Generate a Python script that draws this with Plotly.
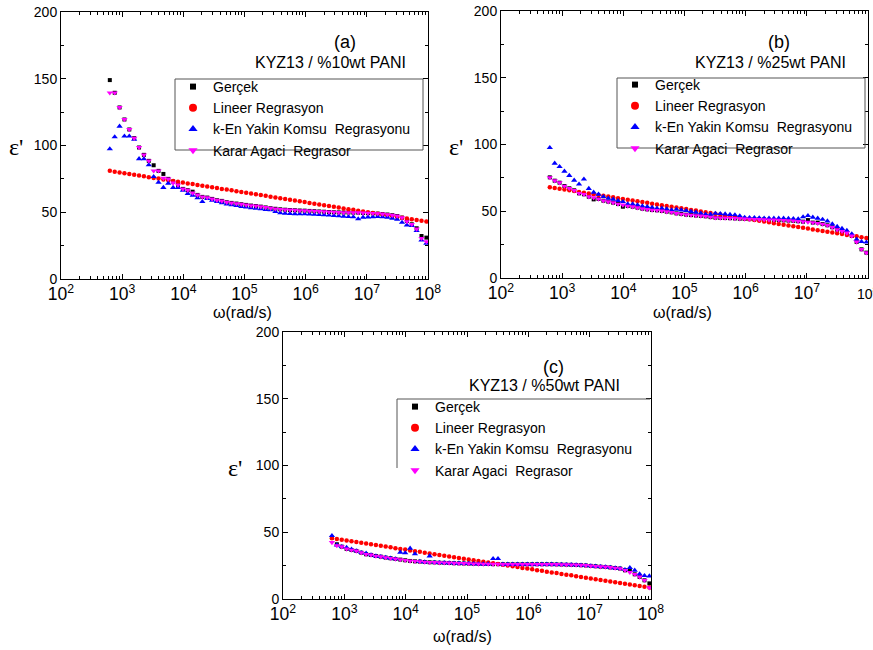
import plotly.graph_objects as go

# ---------------- data ----------------
omega = [
    6.28e2, 7.55e2, 9.07e2, 1.089e3, 1.308e3, 1.571e3, 1.888e3, 2.267e3, 2.724e3, 3.272e3,
    3.930e3, 4.721e3, 5.671e3, 6.812e3, 8.183e3, 9.829e3, 1.181e4, 1.418e4, 1.704e4, 2.046e4,
    2.458e4, 2.953e4, 3.547e4, 4.261e4, 5.118e4, 6.148e4, 7.385e4, 8.871e4, 1.066e5, 1.280e5,
    1.537e5, 1.847e5, 2.218e5, 2.665e5, 3.201e5, 3.845e5, 4.619e5, 5.548e5, 6.664e5, 8.005e5,
    9.616e5, 1.155e6, 1.388e6, 1.667e6, 2.002e6, 2.405e6, 2.889e6, 3.470e6, 4.168e6, 5.007e6,
    6.015e6, 7.225e6, 8.678e6, 1.042e7, 1.252e7, 1.504e7, 1.807e7, 2.170e7, 2.607e7, 3.132e7,
    3.762e7, 4.519e7, 5.428e7, 6.520e7, 7.832e7, 9.408e7,
]

# Panel (a) KYZ13 / %10wt PANI
a_gercek = [
    149.0, 139.5, 128.5, 119.5, 112.0, 105.5, 98.5, 93.0, 88.5, 85.2,
    81.0, 78.7, 75.0, 73.0, 70.5, 67.5, 66.5, 65.4, 63.0, 61.5,
    61.0, 60.0, 59.0, 58.5, 57.5, 57.0, 56.5, 56.0, 55.5, 55.0,
    54.7, 54.2, 53.6, 53.0, 52.6, 52.2, 51.9, 51.7, 51.5, 51.3,
    51.2, 51.0, 50.8, 50.6, 50.4, 50.2, 50.0, 49.9, 49.8, 49.8,
    49.7, 49.7, 49.5, 49.3, 49.2, 49.0, 48.7, 48.3, 47.8, 47.2,
    46.0, 43.5, 41.0, 38.0, 32.2, 31.0,
]
a_lineer = [
    81.0, 80.4, 79.8, 79.2, 78.7, 78.1, 77.5, 76.9, 76.3, 75.7,
    75.2, 74.6, 74.0, 73.4, 72.8, 72.2, 71.6, 71.1, 70.5, 69.9,
    69.3, 68.7, 68.1, 67.5, 67.0, 66.4, 65.8, 65.2, 64.6, 64.0,
    63.5, 62.9, 62.3, 61.7, 61.1, 60.5, 59.9, 59.4, 58.8, 58.2,
    57.6, 57.0, 56.4, 55.8, 55.3, 54.7, 54.1, 53.5, 52.9, 52.3,
    51.8, 51.2, 50.6, 50.0, 49.4, 48.8, 48.2, 47.7, 47.1, 46.5,
    45.9, 45.3, 44.7, 44.2, 43.6, 43.0,
]
a_knn = [
    97.4, 106.4, 114.4, 107.0, 107.0, 104.5, 90.0, 90.0, 85.4, 76.6,
    72.3, 68.5, 71.7, 68.5, 68.5, 66.3, 64.0, 62.7, 60.7, 57.9,
    60.2, 58.9, 58.0, 57.0, 56.0, 55.5, 55.0, 54.2, 53.8, 53.2,
    52.9, 52.5, 52.0, 51.7, 50.5, 49.5, 49.2, 49.0, 48.8, 48.7,
    48.7, 48.6, 48.4, 48.2, 48.0, 47.8, 47.5, 47.2, 47.0, 46.7,
    46.5, 45.0, 46.2, 46.4, 46.6, 46.7, 46.5, 46.2, 45.5, 44.7,
    42.4, 40.4, 40.0, 36.2, 29.2, 26.7,
]
a_karar = [
    139.5, 139.5, 128.5, 119.5, 112.0, 105.5, 98.5, 93.0, 88.5, 81.0,
    81.0, 75.5, 75.0, 72.0, 70.5, 67.5, 66.5, 64.5, 63.0, 61.5,
    61.0, 60.0, 59.0, 58.5, 57.5, 57.0, 56.5, 56.0, 55.5, 55.0,
    54.7, 54.2, 53.6, 53.0, 52.6, 52.2, 51.9, 51.7, 51.5, 51.3,
    51.2, 51.0, 50.8, 50.6, 50.4, 50.2, 50.0, 49.9, 49.8, 49.8,
    49.7, 49.7, 49.5, 49.3, 49.2, 49.0, 48.7, 48.3, 47.8, 47.2,
    46.0, 43.0, 41.0, 37.5, 30.5, 28.0,
]

# Panel (b) KYZ13 / %25wt PANI
b_gercek = [
    75.4, 72.9, 71.4, 68.9, 67.2, 65.7, 63.4, 62.7, 60.9, 58.9,
    59.2, 57.9, 57.2, 56.4, 55.4, 53.4, 53.9, 53.4, 52.7, 51.9,
    51.4, 50.9, 50.7, 50.2, 49.7, 49.2, 48.4, 47.9, 47.4, 47.1,
    46.8, 46.5, 46.2, 45.6, 45.2, 45.0, 44.9, 44.8, 44.6, 44.4,
    44.2, 44.1, 44.0, 43.9, 43.8, 43.6, 43.5, 43.4, 43.2, 43.0,
    42.8, 42.5, 42.2, 43.4, 41.5, 41.5, 40.4, 39.5, 38.0, 36.2,
    35.0, 33.8, 31.5, 27.0, 21.5, 19.0,
]
b_lineer = [
    68.0, 67.4, 66.8, 66.2, 65.7, 65.1, 64.5, 63.9, 63.3, 62.7,
    62.2, 61.6, 61.0, 60.4, 59.8, 59.2, 58.6, 58.1, 57.5, 56.9,
    56.3, 55.7, 55.1, 54.5, 54.0, 53.4, 52.8, 52.2, 51.6, 51.0,
    50.5, 49.9, 49.3, 48.7, 48.1, 47.5, 46.9, 46.4, 45.8, 45.2,
    44.6, 44.0, 43.4, 42.8, 42.3, 41.7, 41.1, 40.5, 39.9, 39.3,
    38.8, 38.2, 37.6, 37.0, 36.4, 35.8, 35.2, 34.7, 34.1, 33.5,
    32.9, 32.3, 31.7, 31.2, 30.6, 30.0,
]
b_knn = [
    97.6, 85.9, 83.4, 79.9, 76.7, 73.2, 70.3, 74.0, 67.0, 64.2,
    62.7, 60.9, 59.7, 58.9, 57.9, 57.2, 55.4, 55.4, 54.7, 53.9,
    53.4, 52.9, 52.2, 52.2, 51.7, 50.9, 51.4, 50.9, 50.4, 49.8,
    49.2, 48.5, 47.7, 47.7, 48.4, 48.2, 47.9, 47.5, 47.2, 46.5,
    45.4, 45.2, 45.2, 45.0, 44.8, 44.7, 44.7, 44.7, 44.7, 44.5,
    44.4, 44.2, 45.7, 46.7, 45.5, 44.7, 43.9, 42.7, 40.4, 38.5,
    37.0, 35.5, 33.0, 29.0, 27.2, 26.8,
]
b_karar = [
    75.2, 72.9, 71.4, 68.9, 67.2, 65.7, 63.4, 62.7, 60.9, 60.2,
    59.2, 57.9, 57.2, 56.4, 55.4, 54.7, 53.9, 53.4, 52.7, 51.9,
    51.4, 50.9, 50.7, 50.2, 49.7, 49.2, 48.4, 47.9, 47.4, 47.1,
    46.8, 46.5, 46.2, 45.6, 45.2, 45.0, 44.9, 44.8, 44.6, 44.4,
    44.2, 44.1, 44.0, 43.9, 43.8, 43.6, 43.5, 43.4, 43.2, 43.0,
    42.8, 42.5, 42.2, 41.9, 41.5, 41.0, 40.4, 39.5, 38.0, 36.2,
    35.0, 33.8, 31.5, 27.0, 21.5, 19.0,
]

# Panel (c) KYZ13 / %50wt PANI
c_gercek = [
    46.0, 41.0, 39.2, 37.5, 36.7, 36.0, 34.7, 33.5, 33.0, 32.2,
    31.7, 31.0, 30.5, 30.0, 29.5, 29.0, 28.5, 28.2, 28.0, 27.7,
    27.5, 27.4, 27.2, 27.1, 27.0, 26.8, 26.7, 26.6, 26.5, 26.4,
    26.3, 26.2, 26.2, 26.1, 26.1, 26.0, 26.0, 26.0, 26.0, 26.0,
    26.0, 26.0, 26.0, 26.0, 26.0, 26.0, 25.9, 25.8, 25.7, 25.6,
    25.5, 25.3, 25.1, 24.8, 24.5, 24.2, 24.0, 23.6, 23.2, 22.8,
    21.5, 21.7, 18.5, 16.5, 14.0, 11.7,
]
c_lineer = [
    45.5, 44.9, 44.4, 43.8, 43.2, 42.7, 42.1, 41.5, 41.0, 40.4,
    39.8, 39.3, 38.7, 38.1, 37.5, 37.0, 36.4, 35.8, 35.3, 34.7,
    34.1, 33.6, 33.0, 32.4, 31.9, 31.3, 30.7, 30.2, 29.6, 29.0,
    28.5, 27.9, 27.3, 26.8, 26.2, 25.6, 25.1, 24.5, 23.9, 23.3,
    22.8, 22.2, 21.6, 21.1, 20.5, 19.9, 19.4, 18.8, 18.2, 17.7,
    17.1, 16.5, 16.0, 15.4, 14.8, 14.3, 13.7, 13.1, 12.6, 12.0,
    11.4, 10.9, 10.3, 9.7, 9.1, 8.6,
]
c_knn = [
    47.4, 40.4, 39.2, 38.5, 37.2, 36.0, 34.7, 34.2, 33.0, 32.2,
    31.7, 31.0, 30.5, 30.0, 35.0, 34.5, 38.0, 33.8, 28.0, 27.7,
    32.2, 27.4, 27.2, 27.1, 27.0, 26.8, 26.7, 26.6, 26.5, 26.4,
    26.3, 26.2, 26.2, 30.2, 30.2, 26.0, 26.0, 26.0, 26.0, 26.0,
    26.0, 26.0, 26.0, 26.0, 26.0, 26.0, 25.9, 25.8, 25.7, 25.6,
    25.5, 25.3, 25.1, 24.8, 24.5, 24.2, 24.0, 23.6, 23.2, 22.8,
    22.0, 23.5, 21.5, 18.7, 17.5, 17.2,
]
c_karar = [
    42.4, 40.0, 39.2, 37.5, 36.7, 36.0, 34.7, 33.5, 33.0, 32.2,
    31.7, 31.0, 30.5, 30.0, 29.5, 29.0, 28.5, 28.2, 28.0, 27.7,
    27.5, 27.4, 27.2, 27.1, 27.0, 26.8, 26.7, 26.6, 26.5, 26.4,
    26.3, 26.2, 26.2, 26.1, 26.1, 26.0, 26.0, 26.0, 26.0, 26.0,
    26.0, 26.0, 26.0, 26.0, 26.0, 26.0, 25.9, 25.8, 25.7, 25.6,
    25.5, 25.3, 25.1, 24.8, 24.5, 24.2, 24.0, 23.6, 23.2, 22.8,
    21.5, 20.0, 18.5, 16.5, 14.0, 8.5,
]

series_names = ["Gerçek", "Lineer Regrasyon",
                "k-En Yakin Komsu \u00a0Regrasyonu", "Karar Agaci \u00a0Regrasor"]
panel_letters = ["(a)", "(b)", "(c)"]
panel_titles = ["KYZ13 / %10wt PANI", "KYZ13 / %25wt PANI", "KYZ13 / %50wt PANI"]
x_title = "ω(rad/s)"
y_title = "ε'"

# ---------------- styling / layout ----------------
W, H = 873, 650
FONT = "Arial, 'Liberation Sans', sans-serif"
styles = [
    dict(symbol="square", color="#000000", size=4),
    dict(symbol="circle", color="#FF0000", size=4.5),
    dict(symbol="triangle-up", color="#0000FF", size=5.5),
    dict(symbol="triangle-down", color="#FF00FF", size=5.5),
]
legend_sizes = [6, 8, 8, 8]

def px_x(p):
    return p / W

def px_y(p):
    return 1 - p / H

# plot boxes in pixels: (left, right, top, bottom)
boxes = [(61, 428, 12, 279), (501, 868, 11, 278), (283, 651, 332, 599)]
panel_data = [
    [a_gercek, a_lineer, a_knn, a_karar],
    [b_gercek, b_lineer, b_knn, b_karar],
    [c_gercek, c_lineer, c_knn, c_karar],
]
legend_pos = [(173, 71), (615, 69), (395, 391)]
letter_pos = [(345, 42), (779, 42), (553, 367)]
title_pos = [(330, 63), (770, 62), (544, 385)]
xtitle_pos = [(242, 313), (682, 313), (462, 636)]
ytitle_pos = [(16, 147), (456, 147), (235, 468)]

fig = go.Figure()
legend_keys = ["legend", "legend2", "legend3"]

for p in range(3):
    xa = "x" if p == 0 else f"x{p+1}"
    ya = "y" if p == 0 else f"y{p+1}"
    for s in range(4):
        st = styles[s]
        fig.add_trace(go.Scatter(
            x=omega, y=panel_data[p][s], mode="markers",
            marker=dict(symbol=st["symbol"], color=st["color"], size=st["size"], line=dict(width=0)),
            xaxis=xa, yaxis=ya, showlegend=False, hoverinfo="skip",
        ))
    for s in range(4):
        st = styles[s]
        fig.add_trace(go.Scatter(
            x=[None], y=[None], mode="markers", name=series_names[s],
            marker=dict(symbol=st["symbol"], color=st["color"], size=legend_sizes[s], line=dict(width=0)),
            xaxis=xa, yaxis=ya, showlegend=True, legend=legend_keys[p],
        ))

layout = dict(
    width=W, height=H, margin=dict(l=0, r=0, t=0, b=0, pad=0, autoexpand=False),
    paper_bgcolor="white", plot_bgcolor="white",
    font=dict(family=FONT, color="black", size=14),
)

for p in range(3):
    l, r, t, b = boxes[p]
    xk = "xaxis" if p == 0 else f"xaxis{p+1}"
    yk = "yaxis" if p == 0 else f"yaxis{p+1}"
    xa = "x" if p == 0 else f"x{p+1}"
    ya = "y" if p == 0 else f"y{p+1}"
    layout[xk] = dict(
        type="log", range=[2, 8], domain=[px_x(l), px_x(r)], anchor=ya, automargin=False,
        showline=True, linecolor="black", linewidth=1, mirror="allticks",
        ticks="inside", ticklen=5, tickcolor="black", tickwidth=1,
        dtick=1, exponentformat="power", showexponent="all",
        tickfont=dict(size=14, family=FONT, color="black"),
        showgrid=False, zeroline=False,
        minor=dict(ticks="inside", ticklen=3, tickcolor="black", dtick="D1", showgrid=False),
    )
    layout[yk] = dict(
        range=[0, 200], domain=[px_y(b), px_y(t)], anchor=xa, automargin=False,
        showline=True, linecolor="black", linewidth=1, mirror="allticks",
        ticks="inside", ticklen=5, tickcolor="black", tickwidth=1,
        dtick=50, tickfont=dict(size=14, family=FONT, color="black"),
        showgrid=False, zeroline=False,
        minor=dict(ticks="inside", ticklen=3, tickcolor="black", dtick=25, showgrid=False),
    )
    lx, ly = legend_pos[p]
    layout[legend_keys[p]] = dict(
        x=px_x(lx), y=px_y(ly), xanchor="left", yanchor="top",
        bgcolor="rgba(0,0,0,0)", borderwidth=0,
        font=dict(size=14, family=FONT, color="black"),
        itemsizing="trace", tracegroupgap=0,
    )

annotations = []
for p in range(3):
    annotations.append(dict(text=panel_letters[p], x=px_x(letter_pos[p][0]), y=px_y(letter_pos[p][1]),
                            xref="paper", yref="paper", showarrow=False, xanchor="center", yanchor="middle",
                            font=dict(size=18, family=FONT, color="black")))
    annotations.append(dict(text=panel_titles[p], x=px_x(title_pos[p][0]), y=px_y(title_pos[p][1]),
                            xref="paper", yref="paper", showarrow=False, xanchor="center", yanchor="middle",
                            font=dict(size=16, family=FONT, color="black")))
    annotations.append(dict(text=x_title, x=px_x(xtitle_pos[p][0]), y=px_y(xtitle_pos[p][1]),
                            xref="paper", yref="paper", showarrow=False, xanchor="center", yanchor="middle",
                            font=dict(size=16, family=FONT, color="black")))
    annotations.append(dict(text=y_title, x=px_x(ytitle_pos[p][0]), y=px_y(ytitle_pos[p][1]),
                            xref="paper", yref="paper", showarrow=False, xanchor="center", yanchor="middle",
                            font=dict(size=24, family="'Liberation Serif', 'DejaVu Serif', serif", color="black")))
# the 10^8 tick label of panel (b), partially cut by the page edge as in the original
annotations.append(dict(text="10<sup>8</sup>", x=8, xref="x2", y=px_y(293), yref="paper",
                        showarrow=False, xanchor="center", yanchor="middle",
                        font=dict(size=14, family=FONT, color="black")))
layout["annotations"] = annotations

shapes = []
frame_col = "#555555"
# legend frames (a) and (b): rectangles
for (x0, y0, x1, y1) in [(175, 79, 423, 150), (617, 78, 865, 148)]:
    shapes.append(dict(type="rect", xref="paper", yref="paper",
                       x0=px_x(x0), x1=px_x(x1), y0=px_y(y1), y1=px_y(y0),
                       line=dict(color=frame_col, width=1), fillcolor="rgba(0,0,0,0)"))
# legend frame (c): top and left lines only
shapes.append(dict(type="line", xref="paper", yref="paper", x0=px_x(397), x1=px_x(650),
                   y0=px_y(399), y1=px_y(399), line=dict(color=frame_col, width=1)))
shapes.append(dict(type="line", xref="paper", yref="paper", x0=px_x(397), x1=px_x(397),
                   y0=px_y(399), y1=px_y(468), line=dict(color=frame_col, width=1)))
layout["shapes"] = shapes

fig.update_layout(**layout)
fig.write_html("out.html")
